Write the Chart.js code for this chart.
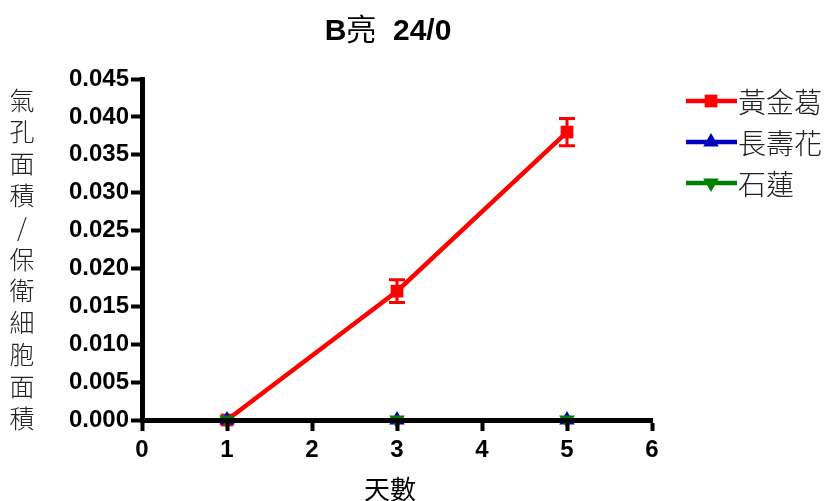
<!DOCTYPE html>
<html>
<head>
<meta charset="utf-8">
<script src="https://cdn.jsdelivr.net/npm/chart.js@4/dist/chart.umd.min.js"></script>
<style>
  html, body { margin: 0; padding: 0; background: #fff; }
  #wrap { width: 826px; height: 501px; position: relative; }
</style>
</head>
<body>
<div id="wrap"><canvas id="c" width="826" height="501"></canvas></div>
<script>
// Stomatal area / guard cell area over days
const days = [1, 3, 5];
const seriesNames = ['黃金葛', '長壽花', '石蓮'];
const goldenPothos = [0, 0.017, 0.038];
const goldenPothosErr = [0, 0.0015, 0.0018];
const kalanchoe = [0, 0, 0];
const kalanchoeErr = [0, 0, 0];
const echeveria = [0, 0, 0];
const echeveriaErr = [0, 0, 0];
const xTicks = [0, 1, 2, 3, 4, 5, 6];
const yTicks = [0, 0.005, 0.010, 0.015, 0.020, 0.025, 0.030, 0.035, 0.040, 0.045];

const titleParts = [['B', true], ['亮', false], ['  24/0', true]];
const xTitle = '天數';
const yTitleChars = ['氣', '孔', '面', '積', '/', '保', '衛', '細', '胞', '面', '積'];

const colors = ['#ff0000', '#0000c0', '#008000'];
const styles = ['rect', 'triangle', 'triangle'];
const rotations = [0, 0, 180];
const radii = [9, 9, 9];
const values = [goldenPothos, kalanchoe, echeveria];
const errors = [goldenPothosErr, kalanchoeErr, echeveriaErr];

const cjk = '"Noto Sans CJK TC", "Noto Sans", sans-serif';
const latin = '"Liberation Sans", Arial, ' + cjk;

const datasets = seriesNames.map((name, i) => ({
  label: name,
  data: days.map((d, k) => ({ x: d, y: values[i][k] })),
  errors: errors[i],
  borderColor: colors[i],
  backgroundColor: colors[i],
  borderWidth: i === 0 ? 4.5 : 3,
  pointStyle: styles[i],
  rotation: rotations[i],
  pointRadius: radii[i],
  pointBorderWidth: 0,
  clip: false,
  tension: 0
}));
// draw order: green over red and blue
datasets[0].order = 2;
datasets[1].order = 1;
datasets[2].order = 0;

// Error bars with caps, drawn through the scales
const errorBars = {
  id: 'errorBars',
  afterDatasetsDraw(chart) {
    const { ctx, scales: { x, y } } = chart;
    ctx.save();
    chart.data.datasets.forEach(ds => {
      ds.data.forEach((p, k) => {
        const e = ds.errors[k];
        if (!e) return;
        const px = x.getPixelForValue(p.x);
        const top = y.getPixelForValue(p.y + e);
        const bot = y.getPixelForValue(p.y - e);
        ctx.strokeStyle = ds.borderColor;
        ctx.lineWidth = 3;
        ctx.lineCap = 'butt';
        ctx.beginPath();
        ctx.moveTo(px, top); ctx.lineTo(px, bot);
        ctx.moveTo(px - 8, top); ctx.lineTo(px + 8, top);
        ctx.moveTo(px - 8, bot); ctx.lineTo(px + 8, bot);
        ctx.stroke();
      });
    });
    ctx.restore();
  }
};

// Title, axis titles and legend
const decorations = {
  id: 'decorations',
  afterDraw(chart) {
    const { ctx } = chart;
    ctx.save();
    ctx.fillStyle = '#000';
    ctx.textBaseline = 'alphabetic';

    // title: mixed weights, centred as a whole
    ctx.textAlign = 'left';
    const fonts = titleParts.map(([t, b]) => (b ? 'bold 30px ' + latin : '30px ' + cjk));
    let total = 0;
    titleParts.forEach(([t], i) => { ctx.font = fonts[i]; total += ctx.measureText(t).width; });
    let tx = 388 - total / 2;
    titleParts.forEach(([t], i) => {
      ctx.font = fonts[i];
      ctx.fillText(t, tx, 40);
      tx += ctx.measureText(t).width;
    });

    ctx.textAlign = 'center';
    ctx.font = '26px ' + cjk;
    ctx.fillText(xTitle, 390, 499);

    ctx.fillStyle = '#222';
    ctx.font = '300 25px ' + cjk;
    ctx.textBaseline = 'middle';
    yTitleChars.forEach((ch, i) => {
      ctx.fillText(ch, 22, 100 + i * 31.8);
    });

    // legend
    ctx.textAlign = 'left';
    chart.data.datasets.forEach((ds, i) => {
      const yy = 101 + i * 41;
      ctx.strokeStyle = ds.borderColor;
      ctx.lineWidth = 4.5;
      ctx.beginPath();
      ctx.moveTo(686, yy); ctx.lineTo(737, yy);
      ctx.stroke();
      ctx.fillStyle = ds.backgroundColor;
      Chart.helpers.drawPoint(ctx, {
        pointStyle: ds.pointStyle, rotation: ds.rotation, radius: ds.pointRadius, borderWidth: 0
      }, 711, yy);
      ctx.fillStyle = '#222';
      ctx.font = '300 28px ' + cjk;
      ctx.fillText(ds.label, 738, yy + 1);
    });
    ctx.restore();
  }
};

const tickFont = { family: '"Liberation Sans", Arial, sans-serif', size: 24, weight: 'bold' };

new Chart(document.getElementById('c'), {
  type: 'line',
  data: { datasets },
  options: {
    responsive: false,
    animation: false,
    devicePixelRatio: 1,
    layout: { padding: { top: 79, right: 174, bottom: 0, left: 0 } },
    plugins: { legend: { display: false }, title: { display: false }, tooltip: { enabled: false } },
    scales: {
      x: {
        type: 'linear', min: 0, max: 6,
        afterFit(s) { s.height = 81; },
        afterBuildTicks(s) { s.ticks = xTicks.map(v => ({ value: v })); },
        grid: { z: 1, drawOnChartArea: false, drawTicks: true, tickLength: 11, tickWidth: 4, tickColor: '#000' },
        border: { z: 1, display: true, width: 5, color: '#000' },
        ticks: { z: 1, color: '#000', padding: 5, font: tickFont }
      },
      y: {
        type: 'linear', min: 0, max: 0.045,
        afterFit(s) { s.width = 142; },
        afterBuildTicks(s) { s.ticks = yTicks.map(v => ({ value: v })); },
        grid: { z: 1, drawOnChartArea: false, drawTicks: true, tickLength: 11, tickWidth: 4, tickColor: '#000' },
        border: { z: 1, display: true, width: 5, color: '#000' },
        ticks: { z: 1, color: '#000', padding: 2, font: tickFont, callback: v => v.toFixed(3) }
      }
    }
  },
  plugins: [errorBars, decorations]
});
</script>
</body>
</html>
